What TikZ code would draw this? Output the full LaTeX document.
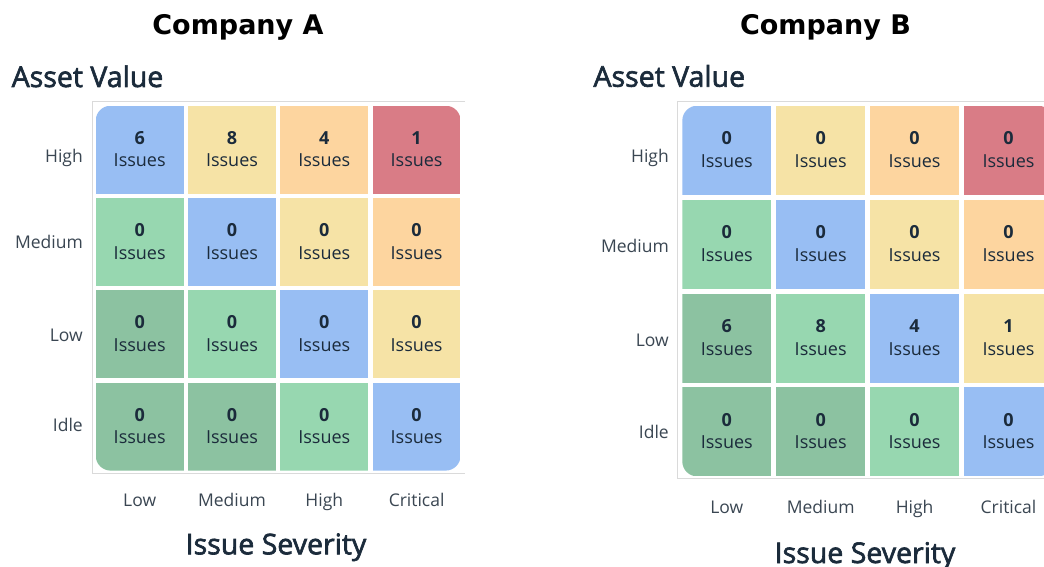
\documentclass[tikz,border=0pt]{standalone}
\usepackage{fontspec}
\setmainfont{Open Sans}
\newfontfamily\titlefont{DejaVu Sans}
\newfontfamily\headfont[FakeBold=2.2]{Open Sans}
\definecolor{cblue}{HTML}{98BEF3}
\definecolor{cyellow}{HTML}{F6E3A6}
\definecolor{corange}{HTML}{FDD59F}
\definecolor{cred}{HTML}{D97C86}
\definecolor{clgreen}{HTML}{97D7B0}
\definecolor{cdgreen}{HTML}{8CC2A1}
\definecolor{navy}{HTML}{1B2B3B}
\definecolor{labelgray}{HTML}{3A4652}
\definecolor{framegray}{HTML}{DADADA}
\tikzset{
  cellbox/.style={draw=none, inner sep=0pt, outer sep=0pt},
  numtext/.style={inner sep=0pt, font=\bfseries\fontsize{18}{22}\selectfont, text=navy},
  isstext/.style={inner sep=0pt, font=\fontsize{18}{22}\selectfont, text=navy},
  axislabel/.style={inner sep=0pt, font=\fontsize{17.5}{22}\selectfont, text=labelgray},
  heading/.style={inner sep=0pt, font=\headfont\fontsize{28.5}{32}\selectfont, text=navy},
  titletext/.style={inner sep=0pt, font=\titlefont\bfseries\fontsize{27}{32}\selectfont, text=black},
  framel/.style={draw=framegray, line width=1pt}
}
% #1 prefix, #2 x0, #3 y0, #4 pitch, #5 size, #6 row with counts
\newcommand\riskgrid[6]{%
  \pgfmathsetmacro\gxe{#2+3*#4+#5}%
  \pgfmathsetmacro\gye{#3+3*#4+#5}%
  \begin{scope}
    \clip[rounded corners=15pt] (#2,#3) rectangle (\gxe,\gye);
    \foreach \r in {1,...,4}{
      \foreach \c/\n in {1/6,2/8,3/4,4/1}{
        \pgfmathtruncatemacro\d{\c-\r}
        \ifnum\d<-1 \def\cc{cdgreen}\else\ifnum\d=-1 \def\cc{clgreen}\else
        \ifnum\d=0 \def\cc{cblue}\else\ifnum\d=1 \def\cc{cyellow}\else
        \ifnum\d=2 \def\cc{corange}\else\def\cc{cred}\fi\fi\fi\fi\fi
        \pgfmathsetmacro\cx{#2+(\c-1)*#4+#5/2}
        \pgfmathsetmacro\cy{#3+(\r-1)*#4+#5/2}
        \node[cellbox, fill=\cc, minimum width=#5pt, minimum height=#5pt] (#1-\r-\c) at (\cx,\cy) {};
      }
    }
  \end{scope}
  \foreach \r in {1,...,4}{
    \foreach \c/\n in {1/6,2/8,3/4,4/1}{
      \pgfmathsetmacro\cx{#2+(\c-1)*#4+#5/2}
      \pgfmathsetmacro\cy{#3+(\r-1)*#4+#5/2}
      \node[numtext, anchor=base] (#1-n-\r-\c) at (\cx,\cy-5.5) {\ifnum\r=#6 \n\else 0\fi};
      \node[isstext, anchor=base] (#1-t-\r-\c) at (\cx,\cy+17) {Issues};
    }
  }
}
\begin{document}
\begin{tikzpicture}[x=1pt,y=-1pt]
\useasboundingbox (0,0) rectangle (1044,567);
\clip (0,0) rectangle (1044,567);
\fill[white] (0,0) rectangle (1044,567);

% ---------- Company A ----------
\node[titletext, anchor=base] (titleA) at (238,34.5) {Company A};
\node[heading, anchor=base west] (avA) at (11.5,87) {Asset Value};
\draw[framel] (465,101.5) -- (92.7,101.5) -- (92.7,473) -- (465,473);
\riskgrid{A}{95.7}{105.7}{92.3}{88}{1}
\node[axislabel, anchor=base east] (rA1) at (83,162) {High};
\node[axislabel, anchor=base east] (rA2) at (83,248.3) {Medium};
\node[axislabel, anchor=base east] (rA3) at (83,341.7) {Low};
\node[axislabel, anchor=base east] (rA4) at (83,431.7) {Idle};
\node[axislabel, anchor=base] (cA1) at (139.7,506) {Low};
\node[axislabel, anchor=base] (cA2) at (232,506) {Medium};
\node[axislabel, anchor=base] (cA3) at (324.3,506) {High};
\node[axislabel, anchor=base] (cA4) at (416.6,506) {Critical};
\node[heading, anchor=base] (isA) at (276,554.3) {Issue Severity};

% ---------- Company B ----------
\node[titletext, anchor=base] (titleB) at (825.5,34.5) {Company B};
\node[heading, anchor=base west] (avB) at (593.3,86.7) {Asset Value};
\draw[framel] (1050,101.7) -- (677.7,101.7) -- (677.7,478.3) -- (1050,478.3);
\riskgrid{B}{682.3}{105.7}{93.9}{89}{3}
\node[axislabel, anchor=base east] (rB1) at (669,162.7) {High};
\node[axislabel, anchor=base east] (rB2) at (669,252.7) {Medium};
\node[axislabel, anchor=base east] (rB3) at (669,346) {Low};
\node[axislabel, anchor=base east] (rB4) at (669,438.3) {Idle};
\node[axislabel, anchor=base] (cB1) at (726.8,513.3) {Low};
\node[axislabel, anchor=base] (cB2) at (820.7,513.3) {Medium};
\node[axislabel, anchor=base] (cB3) at (914.6,513.3) {High};
\node[axislabel, anchor=base] (cB4) at (1008.5,513.3) {Critical};
\node[heading, anchor=base] (isB) at (865,563) {Issue Severity};
\end{tikzpicture}
\end{document}
